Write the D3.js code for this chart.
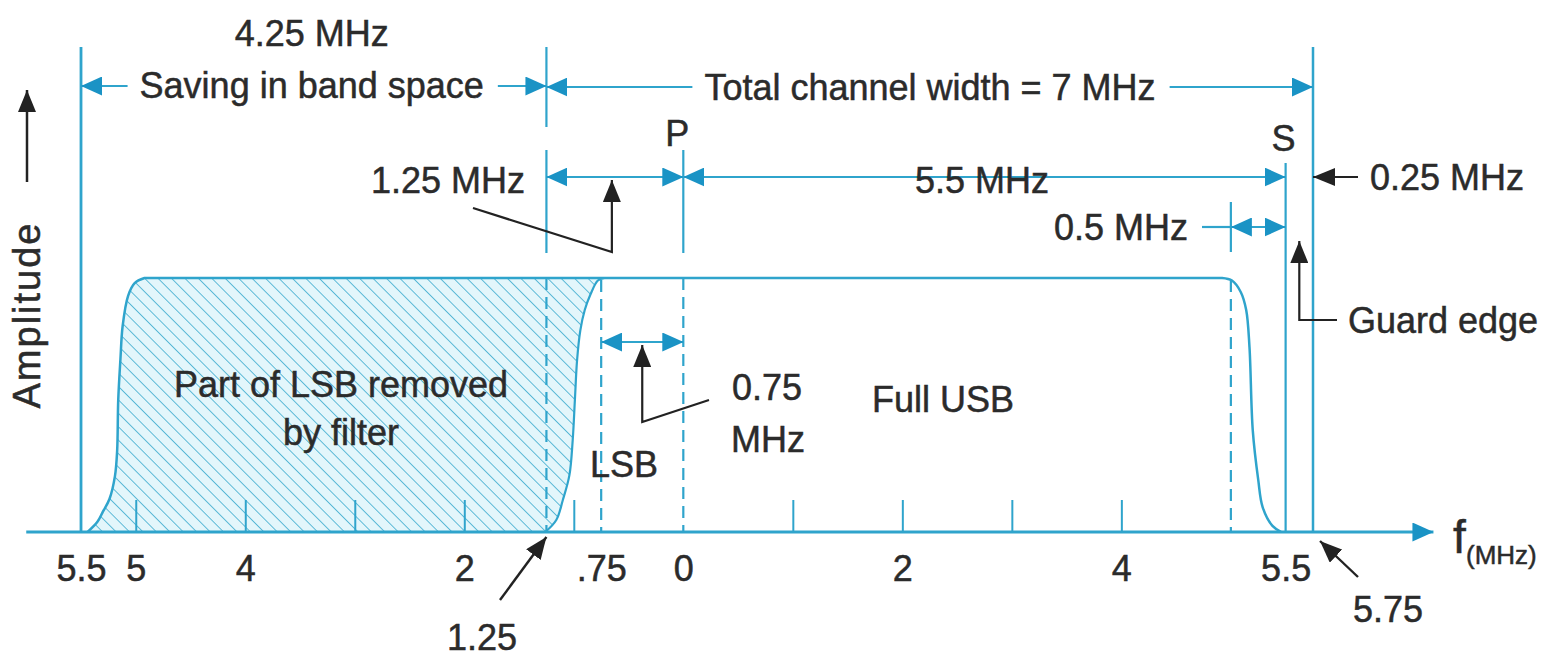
<!DOCTYPE html>
<html>
<head>
<meta charset="utf-8">
<script src="https://cdn.jsdelivr.net/npm/d3@7"></script>
<style>
  body { margin: 0; background: #ffffff; }
  text { font-family: "Liberation Sans", Arial, sans-serif; fill: #2b2b2b; stroke: #2b2b2b; stroke-width: 0.5px; }
</style>
</head>
<body>
<svg id="chart"></svg>
<script>
// Frequency offsets from the picture carrier P, in MHz (lower side negative)
const tickMarks = [-5, -4, -3, -2, -1, 1, 2, 3, 4];
const tickLabelFreqs = [-5.5, -5, -4, -2, -0.75, 0, 2, 4, 5.5];
const tickLabelText = ["5.5", "5", "4", "2", ".75", "0", "2", "4", "5.5"];

// Lower edge of the full spectrum, rising at 5.5 MHz below the carrier
const lowerEdgeFreq = [-5.44, -5.35, -5.3, -5.24, -5.19, -5.17, -5.16, -5.14, -5.12, -5.07, -5.01, -4.92];
const lowerEdgeAmp = [0, 0.04, 0.08, 0.13, 0.22, 0.32, 0.52, 0.68, 0.81, 0.93, 0.98, 1];

// Upper edge of the transmitted band, falling after 5 MHz
const upperEdgeFreq = [4.92, 5.01, 5.09, 5.14, 5.17, 5.2, 5.25, 5.29, 5.38, 5.46];
const upperEdgeAmp = [1, 0.99, 0.945, 0.874, 0.728, 0.4, 0.205, 0.098, 0.024, 0];

// Vestigial sideband filter response
const filterFreq = [-1.26, -1.16, -1.1, -1.04, -1.01, -0.99, -0.97, -0.94, -0.9, -0.85, -0.78, -0.72];
const filterAmp = [0, 0.047, 0.126, 0.224, 0.362, 0.52, 0.677, 0.795, 0.874, 0.933, 0.99, 1];

// Special frequencies
const lsbEdge = -5.5;
const vsbEdge = -1.25;
const vsbFlat = -0.75;
const carrier = 0;
const soundCarrier = 5.5;
const usbFlat = 5;
const channelEdge = 5.75;

const width = 1557;
const height = 657;

const svg = d3.select("#chart").attr("width", width).attr("height", height);

const x = d3.scaleLinear().domain([lsbEdge, channelEdge]).range([81, 1313]);
const y = d3.scaleLinear().domain([0, 1]).range([532, 278]);

const BLUE = "#2fa4cc";
const BLUE_DARK = "#1a93c5";
const INK = "#222222";

// Markers and the hatch pattern
const defs = svg.append("defs");

function addMarker(id, color, len, wid) {
  defs.append("marker")
    .attr("id", id)
    .attr("viewBox", "0 0 10 10")
    .attr("refX", 10)
    .attr("refY", 5)
    .attr("markerUnits", "userSpaceOnUse")
    .attr("markerWidth", len)
    .attr("markerHeight", wid)
    .attr("preserveAspectRatio", "none")
    .attr("orient", "auto-start-reverse")
    .append("path")
    .attr("d", "M0,0L10,5L0,10Z")
    .attr("fill", color);
}
addMarker("arrow-blue", BLUE_DARK, 21, 19);
addMarker("arrow-black", INK, 22, 18);

const hatch = defs.append("pattern")
  .attr("id", "hatch")
  .attr("patternUnits", "userSpaceOnUse")
  .attr("width", 9.5)
  .attr("height", 9.5)
  .attr("patternTransform", "rotate(-45)");
hatch.append("rect").attr("width", 9.5).attr("height", 9.5).attr("fill", "#e3f6fb");
hatch.append("line")
  .attr("x1", 0).attr("y1", 0).attr("x2", 0).attr("y2", 9.5)
  .attr("stroke", "#4fb4d3").attr("stroke-width", 1.8);

// Spectrum shapes
const lineGen = d3.line()
  .x(d => x(d[0]))
  .y(d => y(d[1]))
  .curve(d3.curveCatmullRom.alpha(0.5));

const lowerPts = d3.zip(lowerEdgeFreq, lowerEdgeAmp);
const upperPts = d3.zip(upperEdgeFreq, upperEdgeAmp);
const filterPts = d3.zip(filterFreq, filterAmp);

// Part of the LSB removed by the filter
svg.append("path")
  .attr("d", lineGen(lowerPts) + lineGen(filterPts.slice().reverse()).replace("M", "L") + "Z")
  .attr("fill", "url(#hatch)");

// Spectrum outline
svg.append("path")
  .attr("d", lineGen(lowerPts) + lineGen(upperPts).replace("M", "L"))
  .attr("fill", "none")
  .attr("stroke", BLUE)
  .attr("stroke-width", 2.5);

svg.append("path")
  .attr("d", lineGen(filterPts))
  .attr("fill", "none")
  .attr("stroke", BLUE)
  .attr("stroke-width", 2.2);

// Vertical guide lines
function vLine(f, y1, y2, dashed, w) {
  svg.append("line")
    .attr("x1", x(f)).attr("x2", x(f))
    .attr("y1", y1).attr("y2", y2)
    .attr("stroke", BLUE)
    .attr("stroke-width", w || 2.2)
    .attr("stroke-dasharray", dashed ? "12,7" : null);
}
vLine(lsbEdge, 47, 532, false, 2.8);
vLine(channelEdge, 47, 532, false, 2.5);
vLine(soundCarrier, 163, 532, false, 2.2);
vLine(vsbEdge, 47, 127);
vLine(vsbEdge, 150, 253);
vLine(vsbEdge, 278, 532, true);
vLine(carrier, 150, 253);
vLine(carrier, 278, 532, true);
vLine(vsbFlat, 280, 532, true);
vLine(usbFlat, 280, 532, true);
vLine(usbFlat, 202, 252);

// Frequency axis: ticks and labels
const tickAxis = d3.axisBottom(x).tickValues(tickMarks).tickSize(-32).tickFormat("");
const tickG = svg.append("g").attr("transform", `translate(0,${y(0)})`).call(tickAxis);
tickG.select(".domain").remove();
tickG.selectAll(".tick line").attr("stroke", BLUE).attr("stroke-width", 2);

const labelAxis = d3.axisBottom(x)
  .tickValues(tickLabelFreqs)
  .tickSize(0)
  .tickPadding(23)
  .tickFormat((d, i) => tickLabelText[i]);
const labelG = svg.append("g").attr("transform", `translate(0,${y(0)})`).call(labelAxis);
labelG.select(".domain").remove();
labelG.selectAll("text")
  .attr("font-size", 36)
  .attr("font-family", "Liberation Sans, Arial, sans-serif")
  .attr("fill", "#2b2b2b");

svg.append("line")
  .attr("x1", x(-6)).attr("x2", x(6.85))
  .attr("y1", y(0)).attr("y2", y(0))
  .attr("stroke", BLUE)
  .attr("stroke-width", 3)
  .attr("marker-end", "url(#arrow-blue)");

svg.append("text").attr("x", 1453).attr("y", 553).attr("font-size", 46).text("f");
svg.append("text").attr("x", 1466).attr("y", 564).attr("font-size", 26).text("(MHz)");

// Amplitude label with its arrow
svg.append("text")
  .attr("transform", "translate(40,315) rotate(-90)")
  .attr("text-anchor", "middle")
  .attr("font-size", 38)
  .attr("letter-spacing", 2)
  .text("Amplitude");
svg.append("line")
  .attr("x1", 27).attr("x2", 27).attr("y1", 182).attr("y2", 90)
  .attr("stroke", INK).attr("stroke-width", 2.5)
  .attr("marker-end", "url(#arrow-black)");

// Text helper
function label(txt, px, py, anchor, size) {
  return svg.append("text")
    .attr("x", px).attr("y", py)
    .attr("text-anchor", anchor || "middle")
    .attr("font-size", size || 36)
    .text(txt);
}

// Blue dimension helper: arrows point outward to the guide lines
function dim(f1, f2, py) {
  svg.append("line")
    .attr("x1", x(f1)).attr("x2", x(f2))
    .attr("y1", py).attr("y2", py)
    .attr("stroke", BLUE).attr("stroke-width", 2.2)
    .attr("marker-start", "url(#arrow-blue)")
    .attr("marker-end", "url(#arrow-blue)");
}

function blueSeg(x1, x2, py, endArrow) {
  svg.append("line")
    .attr("x1", x1).attr("x2", x2)
    .attr("y1", py).attr("y2", py)
    .attr("stroke", BLUE).attr("stroke-width", 2.2)
    .attr("marker-end", endArrow ? "url(#arrow-blue)" : null);
}

// Top row: saving in band space and total channel width
label("4.25 MHz", (x(lsbEdge) + x(vsbEdge)) / 2 - 2, 46);
const saving = label("Saving in band space", (x(lsbEdge) + x(vsbEdge)) / 2 - 2, 98);
const sb = saving.node().getBBox();
blueSeg(sb.x - 12, x(lsbEdge), 86, true);
blueSeg(sb.x + sb.width + 14, x(vsbEdge), 86, true);

const total = label("Total channel width = 7 MHz", 930, 100);
const tb = total.node().getBBox();
blueSeg(tb.x - 12, x(vsbEdge), 87, true);
blueSeg(tb.x + tb.width + 14, x(channelEdge), 87, true);

// Carrier labels
label("P", x(carrier) - 6, 146);
label("S", x(soundCarrier) - 2, 151);

// Second row: 1.25 MHz and 5.5 MHz
dim(vsbEdge, carrier, 177);
dim(carrier, soundCarrier, 177);
label("1.25 MHz", 448, 193);
label("5.5 MHz", 982, 193);

// 0.25 MHz guard band
label("0.25 MHz", 1370, 190, "start");
svg.append("line")
  .attr("x1", 1358).attr("x2", x(channelEdge))
  .attr("y1", 177).attr("y2", 177)
  .attr("stroke", INK).attr("stroke-width", 2.2)
  .attr("marker-end", "url(#arrow-black)");

// 0.5 MHz between flat top end and sound carrier
const half = label("0.5 MHz", 1121, 240);
const hb = half.node().getBBox();
blueSeg(hb.x + hb.width + 14, x(usbFlat), 227, false);
dim(usbFlat, soundCarrier, 227);

// Guard edge leader
const guardX = x((soundCarrier + channelEdge) / 2);
svg.append("path")
  .attr("d", `M1337,320H${guardX}V241`)
  .attr("fill", "none")
  .attr("stroke", INK).attr("stroke-width", 2.2)
  .attr("marker-end", "url(#arrow-black)");
label("Guard edge", 1348, 333, "start");

// 1.25 MHz leader
const leadX = x((vsbEdge + carrier) / 2) - 3;
svg.append("path")
  .attr("d", `M473,208L${leadX},252V180`)
  .attr("fill", "none")
  .attr("stroke", INK).attr("stroke-width", 2.2)
  .attr("marker-end", "url(#arrow-black)");

// 0.75 MHz vestige
dim(vsbFlat, carrier, 342);
const vestX = x((vsbFlat + carrier) / 2);
svg.append("path")
  .attr("d", `M709,400L${vestX},422V345`)
  .attr("fill", "none")
  .attr("stroke", INK).attr("stroke-width", 2.2)
  .attr("marker-end", "url(#arrow-black)");
label("0.75", 732, 400, "start");
label("MHz", 731, 452, "start");

// Region labels
label("Part of LSB removed", 341, 397);
label("by filter", 341, 445);
label("LSB", 624, 477);
label("Full USB", 943, 412);

// Bottom pointers
svg.append("line")
  .attr("x1", 500).attr("y1", 600)
  .attr("x2", x(vsbEdge)).attr("y2", 537)
  .attr("stroke", INK).attr("stroke-width", 2.4)
  .attr("marker-end", "url(#arrow-black)");
label("1.25", 482, 650);

svg.append("line")
  .attr("x1", 1358).attr("y1", 577)
  .attr("x2", x(channelEdge) + 7).attr("y2", 541)
  .attr("stroke", INK).attr("stroke-width", 2.4)
  .attr("marker-end", "url(#arrow-black)");
label("5.75", 1388, 622);
</script>
</body>
</html>
